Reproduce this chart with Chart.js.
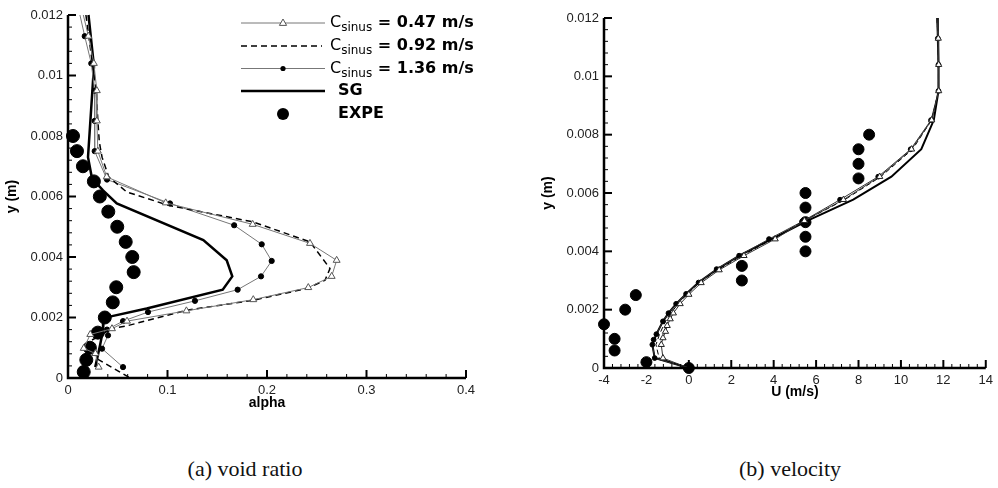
<!DOCTYPE html>
<html>
<head>
<meta charset="utf-8">
<script src="https://cdn.jsdelivr.net/npm/chart.js@4.4.1/dist/chart.umd.min.js"></script>
<style>
  body { margin: 0; background: #fff; width: 998px; height: 488px; position: relative; overflow: hidden; }
  canvas { position: absolute; top: 0; }
  .caption { position: absolute; top: 456px; width: 200px; text-align: center;
    font: 22px 'Liberation Serif', 'DejaVu Serif', serif; color: #111; }
</style>
</head>
<body>
<canvas id="alphaChart" width="490" height="416" style="left:0"></canvas>
<canvas id="velChart" width="462" height="405" style="left:536px"></canvas>
<div class="caption" style="left:145px">(a) void ratio</div>
<div class="caption" style="left:690px">(b) velocity</div>

<script>
// ---- (a) void ratio : alpha vs y ----
const yA047 = [0.012, 0.0113, 0.0104, 0.0095, 0.0085, 0.0075, 0.00665, 0.00579, 0.00508, 0.00445, 0.00389, 0.00336, 0.00299, 0.00259, 0.00222, 0.00188, 0.00163, 0.00144, 0.00098, 0.00081, 0.00036]
const aA047 = [0.0154, 0.0205, 0.026, 0.029, 0.029, 0.030, 0.0389, 0.0982, 0.1856, 0.2432, 0.27, 0.265, 0.2415, 0.1862, 0.119, 0.0593, 0.0442, 0.0224, 0.0158, 0.0275, 0.0308]

const yA092 = [0.012, 0.0104, 0.0095, 0.0085, 0.0078, 0.0073, 0.00665, 0.00615, 0.00571, 0.00516, 0.0045, 0.00362, 0.00323, 0.00296, 0.00257, 0.00224, 0.00174, 0.00163, 0.00118, 0.00064, 0]
const aA092 = [0.018, 0.0245, 0.0285, 0.030, 0.0315, 0.0342, 0.0409, 0.059, 0.1008, 0.186, 0.2432, 0.2633, 0.2583, 0.2399, 0.1862, 0.1193, 0.061, 0.0442, 0.0201, 0.0291, 0.0623]

const yA136 = [0.012, 0.0113, 0.0104, 0.0095, 0.0085, 0.0075, 0.00656, 0.00577, 0.00505, 0.00442, 0.00387, 0.00336, 0.00292, 0.00255, 0.00218, 0.00188, 0.0016, 0.00141, 0.00097, 0.00036]
const aA136 = [0.012, 0.0168, 0.0234, 0.0268, 0.0268, 0.0268, 0.0392, 0.1025, 0.167, 0.1947, 0.2047, 0.194, 0.1705, 0.1276, 0.0804, 0.0553, 0.0392, 0.0402, 0.0342, 0.0553]

const yASG = [0.012, 0.0103, 0.0073, 0.0066, 0.0062, 0.00577, 0.00456, 0.00389, 0.00336, 0.00292, 0.0023, 0.00202, 0.00197, 0.00158, 0.00108, 0.00036]
const aASG = [0.0206, 0.0261, 0.0201, 0.0241, 0.0352, 0.049, 0.136, 0.1595, 0.1651, 0.1555, 0.0791, 0.0409, 0.0359, 0.0352, 0.0322, 0.0274]

const yAExp = [0.008, 0.0075, 0.007, 0.0065, 0.006, 0.0055, 0.005, 0.0045, 0.004, 0.0035, 0.003, 0.0025, 0.002, 0.0015, 0.001, 0.0006, 0.0002]
const aAExp = [0.005, 0.009, 0.015, 0.026, 0.032, 0.0405, 0.0495, 0.058, 0.0646, 0.066, 0.0485, 0.045, 0.037, 0.030, 0.022, 0.0184, 0.0158]

// ---- (b) velocity : U vs y ----
const yU047 = [0.012, 0.0113, 0.0104, 0.0095, 0.0085, 0.0075, 0.00656, 0.00577, 0.00505, 0.00442, 0.00385, 0.00336, 0.00292, 0.00252, 0.0022, 0.00188, 0.00168, 0.00145, 0.00125, 0.00103, 0.0008, 0.00034, 0]
const uU047 = [11.7, 11.76, 11.78, 11.78, 11.45, 10.5, 9.0, 7.29, 5.45, 4.07, 2.6, 1.43, 0.58, 0.0, -0.41, -0.73, -0.88, -1.02, -1.1, -1.22, -1.3, -1.22, 0]

const yU092 = [0.012, 0.0113, 0.0104, 0.0095, 0.0085, 0.0075, 0.00656, 0.00577, 0.00505, 0.00442, 0.00385, 0.00337, 0.00293, 0.00254, 0.0022, 0.00188, 0.0016, 0.00116, 0.0008, 0.00034, 0]
const uU092 = [11.7, 11.75, 11.77, 11.77, 11.45, 10.55, 9.05, 7.35, 5.45, 3.95, 2.5, 1.37, 0.5, -0.07, -0.5, -0.85, -1.1, -1.38, -1.55, -1.4, 0]

const yU136 = [0.012, 0.0113, 0.0104, 0.0095, 0.0085, 0.0075, 0.00656, 0.00577, 0.00502, 0.00442, 0.00385, 0.00339, 0.00293, 0.00254, 0.0022, 0.00188, 0.0016, 0.00116, 0.00097, 0.0008, 0.00034, 0]
const uU136 = [11.69, 11.74, 11.77, 11.77, 11.42, 10.46, 8.93, 7.13, 5.34, 3.78, 2.37, 1.31, 0.46, -0.13, -0.6, -0.96, -1.22, -1.53, -1.66, -1.72, -1.61, 0]

const yUSG = [0.012, 0.0113, 0.0104, 0.0095, 0.0085, 0.0075, 0.00656, 0.00577, 0.00505, 0.00442, 0.00387, 0.00337, 0.00293, 0.00254, 0.0022, 0.00188, 0.0016, 0.00116, 0.0008, 0.00034, 0]
const uUSG = [11.72, 11.74, 11.77, 11.77, 11.55, 10.96, 9.55, 7.75, 5.6, 3.9, 2.42, 1.3, 0.45, -0.13, -0.6, -0.96, -1.22, -1.53, -1.72, -1.61, 0]

const yUExp = [0.0015, 0.001, 0.0006, 0.002, 0.0025, 0.0002, 0, 0.0035, 0.003, 0.006, 0.0055, 0.005, 0.0045, 0.004, 0.0075, 0.007, 0.0065, 0.008]
const uUExp = [-4, -3.5, -3.5, -3, -2.5, -2, 0, 2.5, 2.5, 5.5, 5.5, 5.5, 5.5, 5.5, 8, 8, 8, 8.5]

// legend texts
const speeds = ['0.47 m/s', '0.92 m/s', '1.36 m/s']
const otherNames = ['SG', 'EXPE']

const pts = (xs, ys) => xs.map((x, i) => ({x, y: ys[i]}))
// no marker on the first point (top edge) nor on a wall point at y = 0
const innerRadius = (r) => (c) => (c.dataIndex === 0 || c.raw.y === 0 ? 0 : r)

const tickFont = {family: "'Liberation Sans', Arial, sans-serif", size: 13}
const titleFont = {family: "'Liberation Sans', Arial, sans-serif", size: 14, weight: 'bold'}

// inward major + minor ticks and the two axis lines
const axesPlugin = {
  id: 'tecAxes',
  afterDatasetsDraw(chart, args, opts) {
    const {ctx, chartArea: area, scales: {x, y}} = chart
    ctx.save()
    ctx.strokeStyle = '#000'

    const ticks = (scale, step, horizontal) => {
      const n = Math.round((scale.max - scale.min) / step)
      for (let i = 0; i <= n; i++) {
        const p = scale.getPixelForValue(scale.min + i * step)
        const major = i % 5 === 0
        const len = major ? 8 : 4
        ctx.lineWidth = major ? 2 : 1
        ctx.beginPath()
        if (horizontal) {
          ctx.moveTo(p, area.bottom)
          ctx.lineTo(p, area.bottom - len)
        } else {
          ctx.moveTo(area.left, p)
          ctx.lineTo(area.left + len, p)
        }
        ctx.stroke()
      }
    }
    ticks(x, opts.xMinor, true)
    ticks(y, opts.yMinor, false)

    ctx.lineWidth = 2.5
    ctx.beginPath()
    ctx.moveTo(area.left, area.top)
    ctx.lineTo(area.left, area.bottom)
    ctx.lineTo(area.right, area.bottom)
    ctx.stroke()
    ctx.restore()
  },
}

// legend box in the void ratio panel
const legendPlugin = {
  id: 'sinusLegend',
  afterDraw(chart) {
    const {ctx} = chart
    const ds = chart.data.datasets
    const x1 = 241, x2 = 325, xm = 283
    const rows = [23, 46, 68.5, 91, 114]
    ctx.save()
    ds.forEach((d, i) => {
      const ly = rows[i]
      if (d.showLine) {
        ctx.strokeStyle = d.borderColor
        ctx.lineWidth = d.borderWidth
        ctx.setLineDash(d.borderDash || [])
        ctx.beginPath()
        ctx.moveTo(x1, ly)
        ctx.lineTo(d.borderDash ? 322 : x2, ly)
        ctx.stroke()
        ctx.setLineDash([])
      }
      if (d.legendMarker === 'triangle') {
        ctx.fillStyle = '#fff'
        ctx.strokeStyle = d.pointBorderColor
        ctx.lineWidth = 1
        ctx.beginPath()
        ctx.moveTo(xm, ly - 4)
        ctx.lineTo(xm + 3.6, ly + 2.4)
        ctx.lineTo(xm - 3.6, ly + 2.4)
        ctx.closePath()
        ctx.fill()
        ctx.stroke()
      } else if (d.legendMarker === 'dot') {
        ctx.fillStyle = '#000'
        ctx.beginPath()
        ctx.arc(xm, ly, d.legendRadius, 0, Math.PI * 2)
        ctx.fill()
      }

      ctx.fillStyle = '#000'
      ctx.textBaseline = 'middle'
      if (i < speeds.length) {
        let tx = 330
        ctx.font = "16px 'DejaVu Sans', sans-serif"
        ctx.fillText('C', tx, ly)
        tx += ctx.measureText('C').width
        ctx.font = "12px 'DejaVu Sans', sans-serif"
        ctx.fillText('sinus', tx, ly + 5)
        tx += ctx.measureText('sinus').width
        ctx.font = "bold 16px 'DejaVu Sans', sans-serif"
        ctx.fillText(' = ' + speeds[i], tx, ly)
      } else {
        ctx.font = "bold 16px 'DejaVu Sans', sans-serif"
        ctx.fillText(otherNames[i - speeds.length], 338, ly)
      }
    })
    ctx.restore()
  },
}

function axisConfig(min, max, step, fmt, title, fit) {
  return {
    type: 'linear',
    min, max,
    ticks: {stepSize: step, font: tickFont, color: '#222', padding: 5, callback: fmt},
    grid: {display: false, drawTicks: false},
    border: {display: false},
    title: {display: true, text: title, font: titleFont, color: '#000', padding: {top: 4, bottom: 4}},
    afterFit: fit,
  }
}

const fmtNum = (digits) => (v) => (v === 0 ? '0' : String(parseFloat(v.toFixed(digits))))

function makeChart(id, datasets, scales, padding, minors, plugins) {
  return new Chart(document.getElementById(id), {
    type: 'scatter',
    data: {datasets},
    options: {
      responsive: false,
      animation: false,
      events: [],
      layout: {padding},
      scales,
      plugins: {
        legend: {display: false},
        tooltip: {enabled: false},
        tecAxes: minors,
      },
    },
    plugins,
  })
}

// (a) void ratio
makeChart('alphaChart', [
  {data: pts(aA047, yA047), showLine: true, borderColor: '#777', borderWidth: 1, clip: false,
    pointStyle: 'triangle', pointRadius: innerRadius(4), pointBackgroundColor: '#fff',
    pointBorderColor: '#555', pointBorderWidth: 1, legendMarker: 'triangle'},
  {data: pts(aA092, yA092), showLine: true, borderColor: '#000', borderWidth: 1.5, borderDash: [6, 4],
    pointRadius: 0, clip: false},
  {data: pts(aA136, yA136), showLine: true, borderColor: '#777', borderWidth: 1, clip: false,
    pointRadius: innerRadius(2.6), pointBackgroundColor: '#000', pointBorderColor: '#000',
    legendMarker: 'dot', legendRadius: 2.6},
  {data: pts(aASG, yASG), showLine: true, borderColor: '#000', borderWidth: 2.5, pointRadius: 0, clip: false},
  {data: pts(aAExp, yAExp), showLine: false, pointRadius: 6.5, backgroundColor: '#000',
    borderColor: '#000', clip: false, legendMarker: 'dot', legendRadius: 6},
], {
  x: axisConfig(0, 0.4, 0.1, fmtNum(2), 'alpha', (s) => { s.height = 38 }),
  y: axisConfig(0, 0.012, 0.002, fmtNum(4), 'y (m)', (s) => { s.width = 68 }),
}, {top: 15, right: 24, left: 0, bottom: 0}, {xMinor: 0.02, yMinor: 0.0004}, [axesPlugin, legendPlugin])

// (b) velocity
makeChart('velChart', [
  {data: pts(uU047, yU047), showLine: true, borderColor: '#333', borderWidth: 1, clip: false,
    pointStyle: 'triangle', pointRadius: innerRadius(3.6), pointBackgroundColor: '#fff',
    pointBorderColor: '#222', pointBorderWidth: 1},
  {data: pts(uU092, yU092), showLine: true, borderColor: '#000', borderWidth: 1, borderDash: [5, 3],
    pointRadius: 0, clip: false},
  {data: pts(uU136, yU136), showLine: true, borderColor: '#333', borderWidth: 1, clip: false,
    pointRadius: innerRadius(2.4), pointBackgroundColor: '#000', pointBorderColor: '#000'},
  {data: pts(uUSG, yUSG), showLine: true, borderColor: '#000', borderWidth: 2, pointRadius: 0, clip: false},
  {data: pts(uUExp, yUExp), showLine: false, pointRadius: 5.5, backgroundColor: '#000',
    borderColor: '#000', clip: false},
], {
  x: axisConfig(-4, 14, 2, fmtNum(0), 'U (m/s)', (s) => { s.height = 37 }),
  y: axisConfig(0, 0.012, 0.002, fmtNum(4), 'y (m)', (s) => { s.width = 68 }),
}, {top: 18, right: 10, left: 0, bottom: 0}, {xMinor: 0.4, yMinor: 0.0004}, [axesPlugin])
</script>
</body>
</html>
